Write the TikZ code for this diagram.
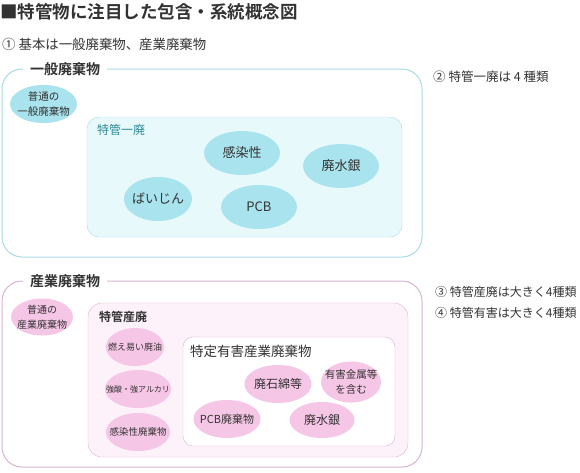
\documentclass[tikz,border=0pt]{standalone}
\usepackage{fontspec}
\setmainfont{Noto Sans CJK JP}[BoldFont={Noto Sans CJK JP Bold}]

\definecolor{cyanline}{HTML}{A8DCE2}
\definecolor{cyanfill}{HTML}{E8F9FB}
\definecolor{cyanoval}{HTML}{A9E3ED}
\definecolor{tealtext}{HTML}{2E8C98}
\definecolor{pinkline}{HTML}{D8B4D2}
\definecolor{pinkfill}{HTML}{FDF1FA}
\definecolor{pinkoval}{HTML}{F6C6E6}
\definecolor{darktext}{HTML}{333333}

\tikzset{
    boxlabel/.style={fill=white, anchor=west, inner xsep=7pt, inner ysep=1pt,
        text=darktext, font=\fontsize{14}{16}\selectfont\bfseries},
    sublabel/.style={anchor=west, inner sep=1pt, text=darktext},
    note/.style={anchor=west, inner sep=0pt, text=darktext},
    ovaltext/.style={align=center, inner sep=0pt, text=darktext}
}

\begin{document}
\begin{tikzpicture}[x=1pt,y=-1pt]
    \useasboundingbox (0,0) rectangle (580,472);
    \node[note, font=\fontsize{17.5}{20}\selectfont\bfseries] (title) at (0,12) {■特管物に注目した包含・系統概念図};
    \node[note, font=\fontsize{13.4}{15}\selectfont] (kihon) at (2,44) {① 基本は一般廃棄物、産業廃棄物};

    % ippan haikibutsu
    \draw[cyanline, line width=1pt, rounded corners=20pt] (2,69) rectangle (422,257);
    \node[boxlabel] (ippan) at (23,69) {一般廃棄物};
    \draw[cyanline, fill=cyanfill, rounded corners=12pt] (87,117) rectangle (402,237);
    \node[sublabel, text=tealtext, font=\fontsize{12}{14}\selectfont] (tokkanippan) at (96,130) {特管一廃};
    \foreach \nm/\x/\y/\ww/\hh/\fs/\txt in {
        futsuippan/43.5/104/67/38/10.5/{普通の\\一般廃棄物},
        kansen/242/153/76/44/13/{感染性},
        suigin/341/166/76/44/13/{廃水銀},
        baijin/158/199/68/44/13/{ばいじん},
        pcb/259/207/76/44/13/{PCB}} {
        \fill[cyanoval] (\x,\y) ellipse [x radius=\ww/2, y radius=\hh/2];
        \node[ovaltext, font=\fontsize{\fs}{15}\selectfont] (\nm) at (\x,\y) {\txt};
    }

    % sangyo haikibutsu
    \draw[pinkline, line width=1pt, rounded corners=20pt] (2,281) rectangle (422,467);
    \node[boxlabel] (sangyo) at (23,281) {産業廃棄物};
    \draw[pinkline, fill=pinkfill, rounded corners=14pt] (88,303) rectangle (408,457);
    \node[sublabel, font=\fontsize{12}{14}\selectfont\bfseries] (tokkansangyo) at (98,317) {特管産廃};
    \draw[pinkline, fill=white, rounded corners=10pt] (183,337) rectangle (395,446);
    \node[sublabel, font=\fontsize{13.5}{15}\selectfont] (tokutei) at (189,351) {特定有害産業廃棄物};
    \foreach \nm/\x/\y/\ww/\hh/\fs/\txt in {
        futsusangyo/42/317/62/37/10/{普通の\\産業廃棄物},
        haiyu/135/347/58/38/9/{燃え易い廃油},
        sanalkali/138/389/66/38/8/{強酸・強アルカリ},
        kansenhai/138/432/64/38/9.5/{感染性廃棄物},
        pcbhai/227/419/67/38/11/{PCB廃棄物},
        sekimen/278/384/67/38/12/{廃石綿等},
        kinzoku/351/382/60/41/10.5/{有害金属等\\を含む},
        suiginhai/322/420/65/36/12/{廃水銀}} {
        \fill[pinkoval] (\x,\y) ellipse [x radius=\ww/2, y radius=\hh/2];
        \node[ovaltext, font=\fontsize{\fs}{15}\selectfont] (\nm) at (\x,\y) {\txt};
    }

    % notes
    \node[note, font=\fontsize{12.5}{15}\selectfont] (note2) at (433,77) {② 特管一廃は 4 種類};
    \node[note, font=\fontsize{12}{15}\selectfont] (note3) at (435,292) {③ 特管産廃は大きく4種類};
    \node[note, font=\fontsize{12}{15}\selectfont] (note4) at (435,313) {④ 特管有害は大きく4種類};
\end{tikzpicture}
\end{document}
